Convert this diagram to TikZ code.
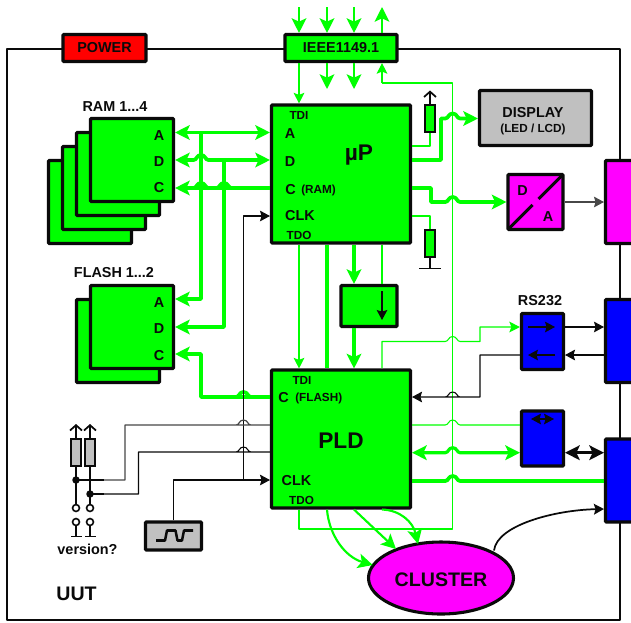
\documentclass[tikz,border=0pt]{standalone}
\usepackage{fontspec}
\setmainfont{Liberation Sans}
\usetikzlibrary{arrows.meta,calc,shapes.geometric}
\definecolor{gn}{RGB}{0,255,0}
\definecolor{mg}{RGB}{255,0,255}
\definecolor{bl}{RGB}{0,0,255}
\definecolor{gy}{RGB}{192,192,192}
\definecolor{rd}{RGB}{255,0,0}
\definecolor{ink}{RGB}{10,10,10}
\newcommand\hop[2]{-- ({#1-7.5},#2) .. controls ({#1-4},#2) and ({#1-4.5},{#2-5}) .. (#1,{#2-5}) .. controls ({#1+4.5},{#2-5}) and ({#1+4},#2) .. ({#1+7.5},#2)}
\tikzset{
  x=0.75pt,y=-0.75pt,
  pxbox/.style 2 args={minimum width={(#1-3)*0.75pt},minimum height={(#2-3)*0.75pt}},
  blk/.style={draw=ink,line width=2.3pt,rounded corners=0.6pt,inner sep=0pt},
  lbl/.style={font=\bfseries\fontsize{10.8pt}{12pt}\selectfont,text=ink,inner sep=0pt},
  lblsm/.style={font=\bfseries\fontsize{8.8pt}{10pt}\selectfont,text=ink,inner sep=0pt},
  lblbig/.style={font=\bfseries\fontsize{14.7pt}{16pt}\selectfont,text=ink,inner sep=0pt},
  lblhuge/.style={font=\bfseries\fontsize{17pt}{18pt}\selectfont,text=ink,inner sep=0pt},
  gbig/.style={-{Stealth[length=11pt,width=11pt,inset=2.5pt]}},
  gbigb/.style={{Stealth[length=11pt,width=11pt,inset=2.5pt]}-{Stealth[length=11pt,width=11pt,inset=2.5pt]}},
  gthin/.style={draw=gn,line width=0.8pt},
  gmed/.style={draw=gn,line width=1.6pt},
  gthick/.style={draw=gn,line width=2.8pt},
  gtip/.style={-{Stealth[length=8pt,width=8pt,inset=1.6pt]}},
  ktip/.style={-{Stealth[length=7.5pt,width=8pt,inset=1.2pt]}},
  ktipb/.style={{Stealth[length=7.5pt,width=8pt,inset=1.2pt]}-{Stealth[length=7.5pt,width=8pt,inset=1.2pt]}},
  kthin/.style={draw=ink,line width=0.8pt},
  res/.style={draw=ink,line width=1.5pt,inner sep=0pt,pxbox={13}{30}},
  upbarb/.style={-{Straight Barb[length=4pt,width=9pt,line width=1.3pt]}},
  term/.style={circle,draw=ink,line width=1.2pt,fill=white,inner sep=0pt,minimum size=5.2pt},
  jdot/.style={circle,fill=ink,inner sep=0pt,minimum size=5.6pt},
}
\begin{document}
\begin{tikzpicture}
\useasboundingbox (0,0) rectangle (631,622);
\clip (0,0) rectangle (631,622);
\fill[white] (0,0) rectangle (631,622);
% frame
\coordinate (fTL) at (6.5,48.5);
\coordinate (fTR) at (619.5,48.5);
\coordinate (fBR) at (619.5,620);
\coordinate (fBL) at (6.5,620);
\draw[ink,line width=1.5pt,line join=round] (fTL) -- (fTR) -- (fBR) -- (fBL) -- cycle;
% stacks
\foreach \n/\cx/\cy in {ram4/90/202,ram3/104/188,ram2/118/174,ram1/132/160,fl2/118/341,fl1/132/327}
  \node[blk,fill=gn,pxbox={86}{86}] (\n) at (\cx,\cy) {};
\node[lbl] (lramt) at (115,107) {RAM 1...4};
\node[lbl] (lflt) at (114,273) {FLASH 1...2};
\node[lbl] (ra) at (159,136) {A};
\node[lbl] (rd) at (159,162) {D};
\node[lbl] (rc) at (159,188) {C};
\node[lbl] (fa) at (159,303) {A};
\node[lbl] (fd) at (159,329) {D};
\node[lbl] (fc) at (159,356) {C};
% boxes
\node[blk,fill=rd,pxbox={86}{30}] (power) at (104.5,48) {};
\node[lbl] at (power) {POWER};
\node[blk,fill=gn,pxbox={115}{30}] (ieee) at (341,48) {};
\node[lbl] at (ieee) {IEEE1149.1};
\node[blk,fill=gn,pxbox={142}{141}] (up) at (341,174) {};
\node[blk,fill=gn,pxbox={142}{141}] (pld) at (341,439) {};
\node[blk,fill=gn,pxbox={59}{44}] (mid) at (369,306) {};
\node[blk,fill=gy,pxbox={115}{58}] (disp) at (535.5,118) {};
\node[lbl] (dispt) at (533,113) {DISPLAY};
\node[lblsm] (dispb) at (533,129) {(LED / LCD)};
\node[blk,fill=mg,pxbox={58}{58}] (da) at (535.5,202) {};
\node[blk,fill=bl,pxbox={45}{59}] (rs) at (542.5,341.5) {};
\node[blk,fill=bl,pxbox={45}{58}] (io) at (542.5,438.5) {};
\node[lbl] (rst) at (540,301) {RS232};
\node[blk,fill=mg,pxbox={50}{86}] (c1) at (629,202) {};
\node[blk,fill=bl,pxbox={50}{86}] (c2) at (629,341) {};
\node[blk,fill=bl,pxbox={50}{86}] (c3) at (629,480.5) {};
\node[ellipse,draw=ink,fill=mg,line width=2.3pt,inner sep=0pt,pxbox={148}{75}] (cl) at (441,578) {};
\node[lblbig] at (441,580) {CLUSTER};
% text uP
\node[lblhuge] (upt) at (359,155) {µP};
\node[lblsm] (ut1) at (299,115) {TDI};
\node[lbl] (ua) at (290,134) {A};
\node[lbl] (ud) at (290,162) {D};
\node[lbl,anchor=west] (uc) at (285,190) {C};
\node[lblsm,anchor=west] (uram) at (301,190) {(RAM)};
\node[lbl] (uclk) at (300,216) {CLK};
\node[lblsm] (utdo) at (299,235) {TDO};
% text PLD
\node[lblhuge] (pldt) at (341,441) {PLD};
\node[lblsm] (pt1) at (302,380) {TDI};
\node[lbl] (pc) at (283.5,398) {C};
\node[lblsm,anchor=west] (pfl) at (295,398) {(FLASH)};
\node[lbl] (pclk) at (296.5,481) {CLK};
\node[lblsm] (ptdo) at (301.5,500) {TDO};
% DA content
\draw[ink,line width=2.2pt] ($(da.south west)+(2,-2)$) -- ($(da.center)+(-3,3)$);
\draw[ink,line width=2.2pt] ($(da.center)+(3,-3)$) -- ($(da.north east)+(-2,2)$);
\node[lbl] (dal) at (522.5,191) {D};
\node[lbl] (aal) at (548,216.5) {A};
% top JTAG arrows
\foreach \x/\n in {299/a,327/b,354/c,382/d} \coordinate (t\n) at (\x,7);
\foreach \n in {a,b,c} \draw[gmed,gbig] (t\n) -- (ieee.north -| t\n);
\draw[gmed,gbig] (ieee.north -| td) -- (td);
\foreach \n in {b,c} {
  \coordinate (e\n) at ($(t\n)+(0,82)$);
  \draw[gmed,gbig] (ieee.south -| t\n) -- (e\n);
}
\draw[gthin,gtip] (ieee.south -| ta) -- (up.north -| ta);
% TDO chain
\coordinate (tdo1) at (452.7,83);
\coordinate (tdo2) at (452.7,529);
\draw[gthin,line join=round] (pld.south -| ta) -- (299,529) -- (tdo2) -- (tdo1) -- (382,83);
\draw[gthin,gtip] (382,83) -- (ieee.south -| td);
% uP -- PLD chain
\draw[gthin,gtip] (up.south -| ta) -- (pld.north -| ta);
\draw[gthick,line width=2.4pt] (up.south -| tb) -- (pld.north -| tb);
\draw[gthick,line width=2.4pt,gbig] (up.south -| tc) -- (mid.north -| tc);
\draw[gthick,line width=2.4pt,gbig] (mid.south -| tc) -- (pld.north -| tc);
\draw[gthin] (up.south -| td) -- (mid.north -| td);
\draw[kthin,ktip] (382,291) -- (382,320);
% RAM buses
\coordinate (ba) at (201,132.5);
\coordinate (bd) at (224,160);
\draw[gthick,gbigb] (ram1.east |- ba) -- (up.west |- ba);
\draw[gthick,gbigb] (ram1.east |- bd) \hop{201}{160} -- (up.west |- bd);
\draw[gthick,gbig] (up.west |- 0,188) \hop{224}{188} \hop{201}{188} -- (ram1.east |- 0,188);
\draw[gthick,gbig,line join=round] (ba) -- (201,299) -- (fl1.east |- 0,299);
\draw[gthick,gbig,line join=round] (bd) -- (224,327) -- (fl1.east |- 0,327);
\draw[gthick,gbig,line join=round] (pld.west |- 0,397) \hop{243.5}{397} -- (201,397) -- (201,354) -- (fl1.east |- 0,354);
% clock
\node[blk,fill=gy,pxbox={59}{31}] (clk) at (173.5,536) {};
\draw[ink,line width=1.9pt,line join=round] (156,540.5) -- (165,540.5) -- (167,530.5) -- (175.5,530.5) -- (177.5,540.5) -- (182,540.5) -- (184,530.5) -- (193,530.5);
\draw[kthin,ktip,line join=round] (clk.north) -- (173.5,480) -- (pld.west |- 0,480);
\draw[kthin,line join=round,ktip] (243.5,480) -- (243.5,216) -- (up.west |- 0,216);
% version
\node[res,fill=gy] (r1) at (76,452.5) {};
\node[res,fill=gy] (r2) at (90,452.5) {};
\coordinate (r1t) at (76,424);
\coordinate (r2t) at (90,424);
\draw[ink,line width=1pt,upbarb] (r1.north) -- (r1t);
\draw[ink,line width=1pt,upbarb] (r2.north) -- (r2t);
\node[term] (s1a) at (76,508) {};
\node[term] (s2a) at (90,508) {};
\node[term] (s1b) at (76,522) {};
\node[term] (s2b) at (90,522) {};
\node[jdot] (j1) at (76,480) {};
\node[jdot] (j2) at (90,494) {};
\draw[ink,line width=1.1pt] (r1.south) -- (s1a.north);
\draw[ink,line width=1.1pt] (r2.south) -- (s2a.north);
\draw[ink,line width=1.1pt] (s1b.south) -- (76,536);
\draw[ink,line width=1.1pt] (s2b.south) -- (90,536);
\draw[ink,line width=1.2pt] (71,536.5) -- (82,536.5) (85,536.5) -- (95.5,536.5);
\draw[ink,line width=1.2pt] (j1.center) -- (104,480);
\draw[ink,line width=1.2pt] (j2.center) -- (104,494);
\draw[draw=ink!75,line width=0.9pt,line join=round] (pld.west |- 0,425) \hop{243.5}{425} -- (125,425) -- (125,480) -- (104,480);
\draw[kthin,line join=round] (pld.west |- 0,452) \hop{243.5}{452} -- (138.5,452) -- (138.5,494) -- (104,494);
\node[lbl] (ver) at (87.5,549) {version?};
\node[lblbig] (uut) at (76.5,594) {UUT};
% resistors at uP
\node[res,fill=gn] (r3) at (430,118) {};
\node[res,fill=gn] (r4) at (430,243.5) {};
\coordinate (r3t) at (430,90.5);
\draw[ink,line width=1pt,upbarb] (r3.north) -- (r3t);
\draw[gmed,line join=round] (up.east |- 0,146) -- (430,146) -- (r3.south);
\draw[gmed,line join=round] (up.east |- 0,216) -- (430,216) -- (r4.north);
\coordinate (r4g) at (430,268.5);
\draw[ink,line width=1.2pt] (r4.south) -- (r4g);
\draw[ink,line width=1.3pt] (419,268.5) -- (441,268.5);
% display, DA
\draw[gthick,gbig,line join=round] (up.east |- 0,160) -- (441,160) -- (441,118.5) \hop{452.7}{118.5} -- (disp.west |- 0,118.5);
\draw[gthick,gbig,line join=round] (up.east |- 0,188) -- (431,188) -- (431,202) \hop{452.7}{202} -- (da.west |- 0,202);
\draw[draw=ink!75,line width=0.8pt,ktip] (da.east) -- (c1.west);
% RS232
\draw[gthin,gtip,line join=round] (pld.north -| td) -- (382,341.5) \hop{452.7}{341.5} -- (480,341.5) -- (480,327) -- (rs.west |- 0,327);
\draw[kthin,ktip,line join=round] (rs.west |- 0,355) -- (480,355) -- (480,397) \hop{452.7}{397} -- (pld.east |- 0,397);
\draw[kthin,ktip] (528,327) -- (555,327);
\draw[kthin,ktip] (555,355) -- (528,355);
\draw[kthin,ktip] (rs.east |- 0,327) -- (c2.west |- 0,327);
\draw[kthin,ktip] (c2.west |- 0,355) -- (rs.east |- 0,355);
% second IO
\draw[kthin,ktipb] (531,419) -- (554,419);
\draw[gthin] (pld.east |- 0,425) \hop{452.7}{425} -- (io.west |- 0,425);
\draw[gthick,line width=2.4pt,gbigb] (pld.east |- 0,452.7) \hop{452.7}{452.7} -- (io.west |- 0,452.7);
\draw[ink,line width=2.4pt,gbigb] (io.east |- 0,452.7) -- (c3.west |- 0,452.7);
\draw[gthick] (pld.east |- 0,481) \hop{452.7}{481} -- (c3.west |- 0,481);
% cluster
\draw[gmed,gbig] (pld.south -| tb) .. controls (329,535) and (345,557) .. (372.7,565);
\draw[gmed,gbig] (pld.south -| tc) -- (396,549);
\draw[gmed,gbig] (pld.south -| td) .. controls (400,510) and (413,522) .. (418,544);
\draw[ink,line width=1.3pt,ktip] (494,550.5) .. controls (497,525) and (555,510) .. (c3.west |- 0,509);
\end{tikzpicture}
\end{document}
